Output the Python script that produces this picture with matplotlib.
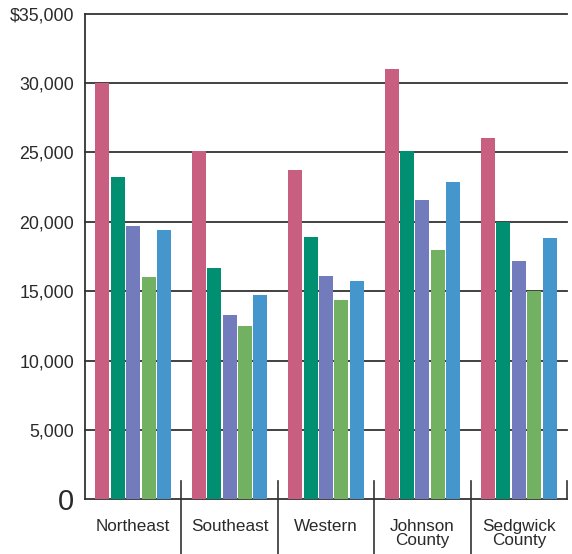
import matplotlib
matplotlib.use("Agg")
import matplotlib.pyplot as plt
from matplotlib.lines import Line2D
import numpy as np

plt.rcParams['font.family'] = ['Liberation Sans Narrow', 'Liberation Sans', 'DejaVu Sans']

categories = ["Northeast", "Southeast", "Western", "Johnson\nCounty", "Sedgwick\nCounty"]
series1 = [30000, 25100, 23700, 31000, 26000]
series2 = [23200, 16700, 18900, 25100, 20000]
series3 = [19700, 13300, 16100, 21600, 17200]
series4 = [16000, 12500, 14400, 18000, 15000]
series5 = [19400, 14700, 15700, 22900, 18800]
series = [series1, series2, series3, series4, series5]
colors = ["#C85F80", "#008F70", "#727CBC", "#72B062", "#4496CC"]
yticks = [0, 5000, 10000, 15000, 20000, 25000, 30000, 35000]
ytick_labels = ["0", "5,000", "10,000", "15,000", "20,000", "25,000", "30,000", "$35,000"]

fig = plt.figure(figsize=(5.72, 5.54), dpi=100)
ax = fig.add_axes([0.1486, 0.0984, 0.8427, 0.8772])

x = np.arange(len(categories))
step = 0.16
width = 0.146
for i, (vals, c) in enumerate(zip(series, colors)):
    ax.bar(x + (i - 2) * step, vals, width=width, color=c, zorder=3)

ax.set_xlim(-0.5, len(categories) - 0.5)
ax.set_ylim(0, 35000)
ax.set_yticks(yticks)
ax.set_yticklabels(ytick_labels, fontsize=12.8, color="#2a2a2a")
ax.get_yticklabels()[0].set_fontsize(21)
ax.tick_params(axis='y', length=0, pad=8)
ax.set_xticks(x)
ax.set_xticklabels(categories, fontsize=12.3, color="#2a2a2a", linespacing=0.95, va='top')
ax.tick_params(axis='x', length=0, pad=14)

for yv in yticks[1:]:
    ax.axhline(yv, color="#333333", linewidth=1.3, zorder=1, clip_on=False)

for s in ['top', 'right']:
    ax.spines[s].set_visible(False)
for s in ['left', 'bottom']:
    ax.spines[s].set_color("#333333")
    ax.spines[s].set_linewidth(1.3)

trans = ax.get_xaxis_transform()
for k in range(1, len(categories)):
    ax.add_line(Line2D([k - 0.5, k - 0.5], [0.038, -0.12], transform=trans,
                       color="#333333", linewidth=1.2, clip_on=False))
ax.add_line(Line2D([len(categories) - 0.5] * 2, [0.038, 0], transform=trans,
                   color="#333333", linewidth=1.2, clip_on=False))

fig.savefig("out.png", dpi=100)
